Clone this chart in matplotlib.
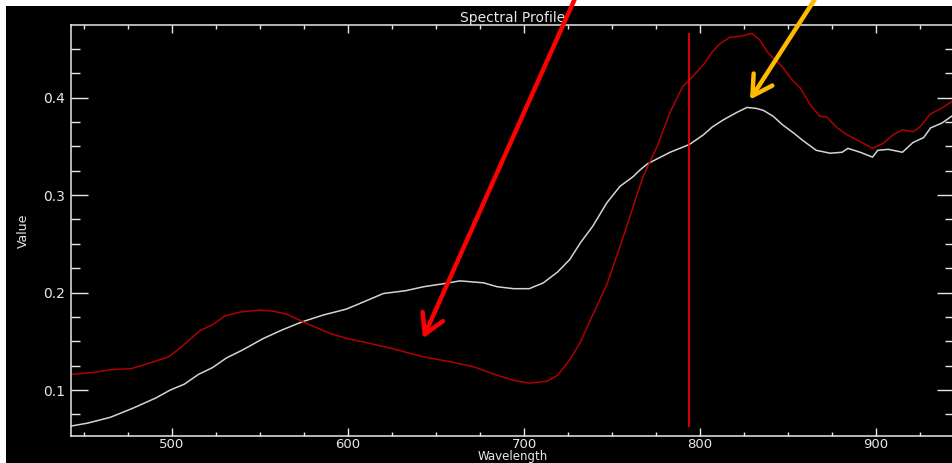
import matplotlib.pyplot as plt
from matplotlib.patches import Rectangle
from matplotlib.ticker import MultipleLocator

# --- DATA ---
wl_red = [442.6, 455, 466, 477, 486, 498, 504.5, 516, 523, 530, 538.6, 550, 557, 565,
          571, 575.6, 582, 590, 599, 607, 624, 643, 658, 671, 685, 694, 703, 713, 719,
          726, 732, 739, 747, 754.5, 760, 767.6, 775.6, 783, 790, 796, 802, 807, 811,
          817, 822.7, 829.5, 834, 838.6, 846.6, 852, 857, 862.5, 868, 872, 878, 883.5,
          891, 898, 904, 909.7, 915, 921, 925, 930.7, 938, 943]
val_red = [0.116, 0.118, 0.121, 0.122, 0.127, 0.134, 0.143, 0.161, 0.167, 0.176, 0.180,
           0.182, 0.181, 0.178, 0.173, 0.169, 0.164, 0.158, 0.153, 0.150, 0.143, 0.134,
           0.129, 0.124, 0.115, 0.110, 0.107, 0.109, 0.115, 0.131, 0.149, 0.177, 0.208,
           0.247, 0.277, 0.319, 0.350, 0.385, 0.411, 0.422, 0.434, 0.447, 0.455, 0.462,
           0.463, 0.466, 0.459, 0.446, 0.432, 0.419, 0.410, 0.393, 0.381, 0.380, 0.369,
           0.362, 0.355, 0.348, 0.353, 0.362, 0.367, 0.365, 0.370, 0.383, 0.390, 0.396]

wl_white = [442.6, 452, 465, 478, 491, 499, 507, 515, 523, 531, 540, 552, 563, 574, 586,
            599, 607, 620, 633, 643, 654, 663.6, 677, 684.7, 694, 703, 711, 719, 726, 732,
            739, 747, 754.5, 762, 766, 770, 783, 794, 802, 807, 813, 821, 826.7, 832, 836,
            841.5, 847, 853, 858.5, 866, 874, 880.7, 884, 891, 898, 901, 907, 915, 921,
            927, 931, 937.5, 943]
val_white = [0.063, 0.066, 0.072, 0.0815, 0.092, 0.100, 0.106, 0.116, 0.123, 0.133, 0.141,
             0.153, 0.162, 0.170, 0.177, 0.183, 0.189, 0.199, 0.202, 0.206, 0.209, 0.212,
             0.210, 0.206, 0.204, 0.204, 0.210, 0.221, 0.234, 0.251, 0.268, 0.292, 0.309,
             0.319, 0.326, 0.332, 0.344, 0.352, 0.362, 0.370, 0.377, 0.385, 0.390, 0.389,
             0.387, 0.381, 0.372, 0.364, 0.356, 0.346, 0.343, 0.344, 0.348, 0.344, 0.339,
             0.346, 0.347, 0.344, 0.354, 0.359, 0.369, 0.374, 0.381]

marker_wl = 794
marker_range = (0.062, 0.466)

# arrow annotations: (tip wavelength, tip value, tail wavelength, tail value)
red_arrow = (642.6, 0.153, 730, 0.506)
gold_arrow = (828.4, 0.398, 867, 0.506)

fg = '#e8e8e8'

fig = plt.figure(figsize=(9.52, 4.63), dpi=100, facecolor='white')
# black plot window, white strip along top and left edge
fig.patches.append(Rectangle((6 / 952, 0), 1, 457 / 463, transform=fig.transFigure,
                             facecolor='black', edgecolor='none', zorder=-10))

ax = fig.add_axes([71 / 952, 27 / 463, 883 / 952, 411 / 463])
ax.set_facecolor('black')

ax.plot(wl_white, val_white, color='#d4d4d4', lw=1.1)
ax.plot(wl_red, val_red, color='#b00000', lw=1.1)
ax.vlines(marker_wl, *marker_range, color='#ff0000', lw=1.2)

ax.annotate('', xy=red_arrow[:2], xytext=red_arrow[2:], annotation_clip=False, zorder=10,
            arrowprops=dict(arrowstyle='->,head_length=0.7,head_width=0.4',
                            mutation_scale=20, color='#ff0000', lw=3.2, shrinkA=0, shrinkB=0))
ax.annotate('', xy=gold_arrow[:2], xytext=gold_arrow[2:], annotation_clip=False, zorder=10,
            arrowprops=dict(arrowstyle='->,head_length=0.7,head_width=0.4',
                            mutation_scale=20, color='#ffba00', lw=3.2, shrinkA=0, shrinkB=0))

ax.set_xlim(442.6, 944.3)
ax.set_ylim(0.0528, 0.4746)
ax.xaxis.set_major_locator(MultipleLocator(100))
ax.xaxis.set_minor_locator(MultipleLocator(25))
ax.yaxis.set_major_locator(MultipleLocator(0.1))
ax.yaxis.set_minor_locator(MultipleLocator(0.025))
ax.yaxis.set_major_formatter(plt.FuncFormatter(lambda v, p: f'{v:.1f}'))

for s in ax.spines.values():
    s.set_color(fg)
    s.set_linewidth(1.1)
ax.tick_params(which='both', direction='in', top=True, right=True, colors=fg,
               labelsize=10, width=1.0)
ax.tick_params(axis='x', which='major', length=5.8, pad=1.5, labelsize=9.5)
ax.tick_params(axis='x', which='minor', length=2.9)
ax.tick_params(axis='y', which='major', length=12.2, pad=4)
ax.tick_params(axis='y', which='minor', length=6.5)

ax.set_title('Spectral Profile', color=fg, fontsize=10, pad=2)
ax.set_xlabel('Wavelength', color=fg, fontsize=8.5, labelpad=-0.5)
ax.set_ylabel('Value', color=fg, fontsize=9, labelpad=10)

fig.savefig('out.png', dpi=100, facecolor=fig.get_facecolor())
